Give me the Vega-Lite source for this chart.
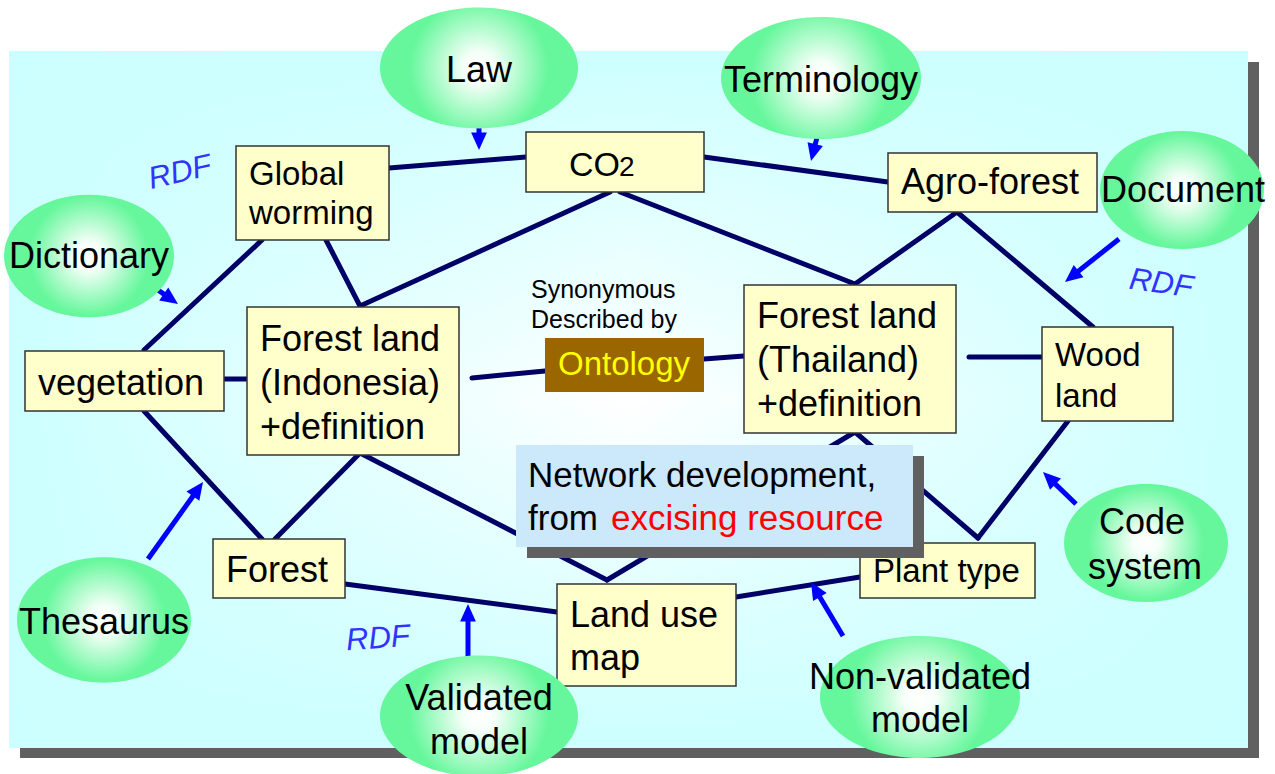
{
  "$schema": "https://vega.github.io/schema/vega-lite/v6.json",
  "width": 1275,
  "height": 774,
  "autosize": "none",
  "padding": 0,
  "background": "white",
  "config": {"view": {"stroke": null}},
  "datasets": {
    "frames": [
      {"part": "slide shadow", "x": 20, "y": 62, "x2": 1259, "y2": 758},
      {"part": "slide", "x": 9, "y": 51, "x2": 1248, "y2": 748},
      {"part": "callout shadow", "x": 527, "y": 456, "x2": 924, "y2": 558},
      {"part": "callout", "x": 516, "y": 445, "x2": 913, "y2": 547}
    ],
    "nodes": [
      {"node": "Global worming", "kind": "term", "x": 236, "y": 146, "x2": 389, "y2": 240},
      {"node": "CO2", "kind": "term", "x": 526, "y": 132, "x2": 704, "y2": 192},
      {"node": "Agro-forest", "kind": "term", "x": 888, "y": 153, "x2": 1097, "y2": 212},
      {"node": "vegetation", "kind": "term", "x": 25, "y": 351, "x2": 224, "y2": 411},
      {"node": "Forest land (Indonesia)", "kind": "term", "x": 247, "y": 307, "x2": 459, "y2": 455},
      {"node": "Forest land (Thailand)", "kind": "term", "x": 744, "y": 285, "x2": 956, "y2": 433},
      {"node": "Wood land", "kind": "term", "x": 1042, "y": 327, "x2": 1173, "y2": 421},
      {"node": "Forest", "kind": "term", "x": 213, "y": 539, "x2": 345, "y2": 598},
      {"node": "Land use map", "kind": "term", "x": 557, "y": 584, "x2": 736, "y2": 686},
      {"node": "Plant type", "kind": "term", "x": 860, "y": 543, "x2": 1035, "y2": 598},
      {"node": "Ontology", "kind": "ontology", "x": 545, "y": 338, "x2": 704, "y2": 392}
    ],
    "edges": [
      {"from": "Global worming", "to": "CO2", "x": 389, "y": 168, "x2": 526, "y2": 157},
      {"from": "CO2", "to": "Agro-forest", "x": 704, "y": 157, "x2": 888, "y2": 182},
      {"from": "Global worming", "to": "vegetation", "x": 262, "y": 240, "x2": 144, "y2": 350},
      {"from": "Global worming", "to": "Forest land (Indonesia)", "x": 326, "y": 240, "x2": 360, "y2": 306},
      {"from": "Forest land (Indonesia)", "to": "CO2", "x": 360, "y": 306, "x2": 610, "y2": 192},
      {"from": "CO2", "to": "Forest land (Thailand)", "x": 620, "y": 192, "x2": 855, "y2": 284},
      {"from": "Agro-forest", "to": "Forest land (Thailand)", "x": 957, "y": 212, "x2": 855, "y2": 284},
      {"from": "Agro-forest", "to": "Wood land", "x": 957, "y": 212, "x2": 1093, "y2": 327},
      {"from": "Forest land (Thailand)", "to": "Wood land", "x": 969, "y": 357, "x2": 1042, "y2": 357},
      {"from": "vegetation", "to": "Forest land (Indonesia)", "x": 224, "y": 379, "x2": 247, "y2": 379},
      {"from": "Forest land (Indonesia)", "to": "Ontology", "x": 472, "y": 378, "x2": 545, "y2": 371},
      {"from": "Ontology", "to": "Forest land (Thailand)", "x": 704, "y": 359, "x2": 744, "y2": 356},
      {"from": "vegetation", "to": "Forest", "x": 144, "y": 411, "x2": 262, "y2": 539},
      {"from": "Forest", "to": "Forest land (Indonesia)", "x": 275, "y": 539, "x2": 360, "y2": 453},
      {"from": "Forest land (Indonesia)", "to": "Land use map", "x": 360, "y": 453, "x2": 607, "y2": 580},
      {"from": "Land use map", "to": "Forest land (Thailand)", "x": 607, "y": 580, "x2": 855, "y2": 432},
      {"from": "Forest land (Thailand)", "to": "Plant type", "x": 855, "y": 432, "x2": 978, "y2": 538},
      {"from": "Plant type", "to": "Wood land", "x": 978, "y": 538, "x2": 1068, "y2": 421},
      {"from": "Forest", "to": "Land use map", "x": 345, "y": 584, "x2": 557, "y2": 612},
      {"from": "Land use map", "to": "Plant type", "x": 736, "y": 597, "x2": 860, "y2": 577}
    ],
    "sources": [
      {"source": "Law", "kind": "wide", "x": 479, "y": 68, "rx": 99},
      {"source": "Terminology", "kind": "wide", "x": 821, "y": 78, "rx": 100},
      {"source": "Document", "kind": "round", "x": 1182, "y": 190, "rx": 82},
      {"source": "Dictionary", "kind": "round", "x": 89, "y": 256, "rx": 85},
      {"source": "Thesaurus", "kind": "round", "x": 104, "y": 620, "rx": 87},
      {"source": "Validated model", "kind": "wide", "x": 479, "y": 716, "rx": 99},
      {"source": "Non-validated model", "kind": "wide", "x": 920, "y": 697, "rx": 100},
      {"source": "Code system", "kind": "round", "x": 1146, "y": 543, "rx": 82}
    ],
    "arrows": [
      {"source": "Dictionary", "x": 148, "y": 283, "x2": 171.4, "y2": 299.4, "tx": 178, "ty": 304, "angle": 125},
      {"source": "Law", "x": 479, "y": 118, "x2": 479, "y2": 142, "tx": 479, "ty": 150, "angle": 180},
      {"source": "Terminology", "x": 822, "y": 118, "x2": 813, "y2": 153, "tx": 811, "ty": 161, "angle": 194},
      {"source": "Document", "x": 1119, "y": 239, "x2": 1071, "y2": 277, "tx": 1065, "ty": 282, "angle": 231.5},
      {"source": "Thesaurus", "x": 148, "y": 559, "x2": 198.4, "y2": 488.5, "tx": 203, "ty": 482, "angle": 35.5},
      {"source": "Validated model", "x": 468, "y": 659, "x2": 468, "y2": 612, "tx": 468, "ty": 604, "angle": 0},
      {"source": "Non-validated model", "x": 843, "y": 636, "x2": 815, "y2": 589, "tx": 811, "ty": 582, "angle": 329.4},
      {"source": "Code system", "x": 1076, "y": 504, "x2": 1048.7, "y2": 477.6, "tx": 1043, "ty": 472, "angle": 314.1}
    ],
    "labels": [
      {"role": "termCO", "text": "CO", "x": 569, "y": 176},
      {"role": "sub", "text": "2", "x": 619, "y": 176},
      {"role": "term", "text": "Agro-forest", "x": 901, "y": 194},
      {"role": "term", "text": "vegetation", "x": 38, "y": 395},
      {"role": "term", "text": "Forest land", "x": 260, "y": 351},
      {"role": "term", "text": "(Indonesia)", "x": 260, "y": 395},
      {"role": "term", "text": "+definition", "x": 260, "y": 439},
      {"role": "term", "text": "Forest land", "x": 757, "y": 328},
      {"role": "term", "text": "(Thailand)", "x": 757, "y": 372},
      {"role": "term", "text": "+definition", "x": 757, "y": 416},
      {"role": "term", "text": "Forest", "x": 226, "y": 582},
      {"role": "term", "text": "Land use", "x": 570, "y": 627},
      {"role": "term", "text": "map", "x": 570, "y": 670},
      {"role": "termSmall", "text": "Global", "x": 249, "y": 185},
      {"role": "termSmall", "text": "worming", "x": 249, "y": 224},
      {"role": "termSmall", "text": "Wood", "x": 1055, "y": 366},
      {"role": "termSmall", "text": "land", "x": 1055, "y": 407},
      {"role": "termSmall", "text": "Plant type", "x": 873, "y": 582},
      {"role": "note", "text": "Synonymous", "x": 531, "y": 298},
      {"role": "note", "text": "Described by", "x": 531, "y": 328},
      {"role": "ontology", "text": "Ontology", "x": 558, "y": 375},
      {"role": "source", "text": "Law", "x": 479, "y": 82},
      {"role": "source", "text": "Terminology", "x": 821, "y": 92},
      {"role": "source", "text": "Document", "x": 1183, "y": 202},
      {"role": "source", "text": "Dictionary", "x": 89, "y": 268},
      {"role": "source", "text": "Thesaurus", "x": 104, "y": 634},
      {"role": "source", "text": "Code", "x": 1142, "y": 534},
      {"role": "source", "text": "system", "x": 1145, "y": 579},
      {"role": "source", "text": "Validated", "x": 479, "y": 710},
      {"role": "source", "text": "model", "x": 479, "y": 754},
      {"role": "source", "text": "Non-validated", "x": 920, "y": 689},
      {"role": "source", "text": "model", "x": 920, "y": 732},
      {"role": "callout", "text": "Network development,", "x": 528, "y": 487},
      {"role": "callout", "text": "from", "x": 528, "y": 530},
      {"role": "calloutRed", "text": "excising resource", "x": 611, "y": 530},
      {"role": "rdf", "text": "RDF", "x": 180, "y": 173, "angle": -13},
      {"role": "rdf", "text": "RDF", "x": 1161, "y": 284, "angle": 8},
      {"role": "rdf", "text": "RDF", "x": 378, "y": 639, "angle": -4}
    ]
  },
  "layer": [
    {
      "data": {"name": "frames"},
      "transform": [{"filter": "datum.part === 'slide shadow'"}],
      "mark": {"type": "rect", "fill": "#606060"},
      "encoding": {
        "x": {"field": "x", "type": "quantitative", "scale": {"domain": [0, 1275], "nice": false, "zero": false}, "axis": null},
        "y": {"field": "y", "type": "quantitative", "scale": {"domain": [0, 774], "nice": false, "zero": false, "reverse": true}, "axis": null},
        "x2": {"field": "x2"},
        "y2": {"field": "y2"}
      }
    },
    {
      "data": {"name": "frames"},
      "transform": [{"filter": "datum.part === 'slide'"}],
      "mark": {"type": "rect", "fill": {"gradient": "linear", "x1": 0, "y1": 0, "x2": 0, "y2": 1, "stops": [{"offset": 0, "color": "#CCFFFF"}, {"offset": 0.5, "color": "#FFFFFF"}, {"offset": 1, "color": "#CCFFFF"}]}},
      "encoding": {
        "x": {"field": "x", "type": "quantitative", "scale": {"domain": [0, 1275], "nice": false, "zero": false}, "axis": null},
        "y": {"field": "y", "type": "quantitative", "scale": {"domain": [0, 774], "nice": false, "zero": false, "reverse": true}, "axis": null},
        "x2": {"field": "x2"},
        "y2": {"field": "y2"}
      }
    },
    {
      "data": {"name": "frames"},
      "transform": [{"filter": "datum.part === 'slide'"}],
      "mark": {"type": "rect", "fill": {"gradient": "linear", "x1": 0, "y1": 0, "x2": 1, "y2": 0, "stops": [{"offset": 0, "color": "rgba(204,255,255,1)"}, {"offset": 0.5, "color": "rgba(204,255,255,0)"}, {"offset": 1, "color": "rgba(204,255,255,1)"}]}},
      "encoding": {
        "x": {"field": "x", "type": "quantitative", "scale": {"domain": [0, 1275], "nice": false, "zero": false}, "axis": null},
        "y": {"field": "y", "type": "quantitative", "scale": {"domain": [0, 774], "nice": false, "zero": false, "reverse": true}, "axis": null},
        "x2": {"field": "x2"},
        "y2": {"field": "y2"}
      }
    },
    {
      "data": {"name": "edges"},
      "mark": {"type": "rule", "color": "#000066", "strokeWidth": 5, "strokeCap": "round"},
      "encoding": {
        "x": {"field": "x", "type": "quantitative", "scale": {"domain": [0, 1275], "nice": false, "zero": false}, "axis": null},
        "y": {"field": "y", "type": "quantitative", "scale": {"domain": [0, 774], "nice": false, "zero": false, "reverse": true}, "axis": null},
        "x2": {"field": "x2"},
        "y2": {"field": "y2"}
      }
    },
    {
      "data": {"name": "nodes"},
      "transform": [{"filter": "datum.kind === 'term'"}],
      "mark": {"type": "rect", "fill": "#FFFFCC", "stroke": "#333333", "strokeWidth": 1.5},
      "encoding": {
        "x": {"field": "x", "type": "quantitative", "scale": {"domain": [0, 1275], "nice": false, "zero": false}, "axis": null},
        "y": {"field": "y", "type": "quantitative", "scale": {"domain": [0, 774], "nice": false, "zero": false, "reverse": true}, "axis": null},
        "x2": {"field": "x2"},
        "y2": {"field": "y2"}
      }
    },
    {
      "data": {"name": "nodes"},
      "transform": [{"filter": "datum.kind === 'ontology'"}],
      "mark": {"type": "rect", "fill": "#996600"},
      "encoding": {
        "x": {"field": "x", "type": "quantitative", "scale": {"domain": [0, 1275], "nice": false, "zero": false}, "axis": null},
        "y": {"field": "y", "type": "quantitative", "scale": {"domain": [0, 774], "nice": false, "zero": false, "reverse": true}, "axis": null},
        "x2": {"field": "x2"},
        "y2": {"field": "y2"}
      }
    },
    {
      "data": {"name": "frames"},
      "transform": [{"filter": "datum.part === 'callout shadow'"}],
      "mark": {"type": "rect", "fill": "#606060"},
      "encoding": {
        "x": {"field": "x", "type": "quantitative", "scale": {"domain": [0, 1275], "nice": false, "zero": false}, "axis": null},
        "y": {"field": "y", "type": "quantitative", "scale": {"domain": [0, 774], "nice": false, "zero": false, "reverse": true}, "axis": null},
        "x2": {"field": "x2"},
        "y2": {"field": "y2"}
      }
    },
    {
      "data": {"name": "frames"},
      "transform": [{"filter": "datum.part === 'callout'"}],
      "mark": {"type": "rect", "fill": "#CCE9FB"},
      "encoding": {
        "x": {"field": "x", "type": "quantitative", "scale": {"domain": [0, 1275], "nice": false, "zero": false}, "axis": null},
        "y": {"field": "y", "type": "quantitative", "scale": {"domain": [0, 774], "nice": false, "zero": false, "reverse": true}, "axis": null},
        "x2": {"field": "x2"},
        "y2": {"field": "y2"}
      }
    },
    {
      "data": {"name": "arrows"},
      "mark": {"type": "rule", "color": "#0000FF", "strokeWidth": 5},
      "encoding": {
        "x": {"field": "x", "type": "quantitative", "scale": {"domain": [0, 1275], "nice": false, "zero": false}, "axis": null},
        "y": {"field": "y", "type": "quantitative", "scale": {"domain": [0, 774], "nice": false, "zero": false, "reverse": true}, "axis": null},
        "x2": {"field": "x2"},
        "y2": {"field": "y2"}
      }
    },
    {
      "data": {"name": "arrows"},
      "mark": {"type": "point", "filled": true, "opacity": 1, "color": "#0000FF", "size": 1000, "shape": "M0,0L0.5,1.1L-0.5,1.1Z"},
      "encoding": {
        "x": {"field": "tx", "type": "quantitative", "scale": {"domain": [0, 1275], "nice": false, "zero": false}, "axis": null},
        "y": {"field": "ty", "type": "quantitative", "scale": {"domain": [0, 774], "nice": false, "zero": false, "reverse": true}, "axis": null},
        "angle": {"field": "angle", "type": "quantitative", "scale": null}
      }
    },
    {
      "data": {"name": "sources"},
      "mark": {"type": "point", "filled": true, "opacity": 1, "strokeWidth": 0, "fill": {"gradient": "radial", "x1": 0.5, "y1": 0.5, "r1": 0, "x2": 0.5, "y2": 0.5, "r2": 0.5, "stops": [{"offset": 0, "color": "#FFFFFF"}, {"offset": 0.16, "color": "#F6FFF9"}, {"offset": 0.7, "color": "#66F79C"}, {"offset": 1, "color": "#66F79C"}]}},
      "encoding": {
        "x": {"field": "x", "type": "quantitative", "scale": {"domain": [0, 1275], "nice": false, "zero": false}, "axis": null},
        "y": {"field": "y", "type": "quantitative", "scale": {"domain": [0, 774], "nice": false, "zero": false, "reverse": true}, "axis": null},
        "size": {"field": "rx", "type": "quantitative", "scale": {"type": "pow", "exponent": 2, "domain": [0, 100], "range": [0, 40000]}, "legend": null},
        "shape": {"field": "kind", "type": "nominal", "scale": {"domain": ["wide", "round"], "range": ["M-1,0C-1,-0.3367,-0.552,-0.61,0,-0.61C0.552,-0.61,1,-0.3367,1,0C1,0.3367,0.552,0.61,0,0.61C-0.552,0.61,-1,0.3367,-1,0Z", "M-1,0C-1,-0.3974,-0.552,-0.72,0,-0.72C0.552,-0.72,1,-0.3974,1,0C1,0.3974,0.552,0.72,0,0.72C-0.552,0.72,-1,0.3974,-1,0Z"]}, "legend": null}
      }
    },
    {
      "data": {"name": "labels"},
      "transform": [{"filter": "datum.role === 'term'"}],
      "mark": {"type": "text", "font": "Liberation Sans", "fontSize": 36, "align": "left", "baseline": "alphabetic", "color": "#000000"},
      "encoding": {
        "x": {"field": "x", "type": "quantitative", "scale": {"domain": [0, 1275], "nice": false, "zero": false}, "axis": null},
        "y": {"field": "y", "type": "quantitative", "scale": {"domain": [0, 774], "nice": false, "zero": false, "reverse": true}, "axis": null},
        "text": {"field": "text"}
      }
    },
    {
      "data": {"name": "labels"},
      "transform": [{"filter": "datum.role === 'termCO'"}],
      "mark": {"type": "text", "font": "Liberation Sans", "fontSize": 34, "align": "left", "baseline": "alphabetic", "color": "#000000"},
      "encoding": {
        "x": {"field": "x", "type": "quantitative", "scale": {"domain": [0, 1275], "nice": false, "zero": false}, "axis": null},
        "y": {"field": "y", "type": "quantitative", "scale": {"domain": [0, 774], "nice": false, "zero": false, "reverse": true}, "axis": null},
        "text": {"field": "text"}
      }
    },
    {
      "data": {"name": "labels"},
      "transform": [{"filter": "datum.role === 'termSmall'"}],
      "mark": {"type": "text", "font": "Liberation Sans", "fontSize": 33, "align": "left", "baseline": "alphabetic", "color": "#000000"},
      "encoding": {
        "x": {"field": "x", "type": "quantitative", "scale": {"domain": [0, 1275], "nice": false, "zero": false}, "axis": null},
        "y": {"field": "y", "type": "quantitative", "scale": {"domain": [0, 774], "nice": false, "zero": false, "reverse": true}, "axis": null},
        "text": {"field": "text"}
      }
    },
    {
      "data": {"name": "labels"},
      "transform": [{"filter": "datum.role === 'sub'"}],
      "mark": {"type": "text", "font": "Liberation Sans", "fontSize": 28, "align": "left", "baseline": "alphabetic", "color": "#000000"},
      "encoding": {
        "x": {"field": "x", "type": "quantitative", "scale": {"domain": [0, 1275], "nice": false, "zero": false}, "axis": null},
        "y": {"field": "y", "type": "quantitative", "scale": {"domain": [0, 774], "nice": false, "zero": false, "reverse": true}, "axis": null},
        "text": {"field": "text"}
      }
    },
    {
      "data": {"name": "labels"},
      "transform": [{"filter": "datum.role === 'note'"}],
      "mark": {"type": "text", "font": "Liberation Sans", "fontSize": 25, "align": "left", "baseline": "alphabetic", "color": "#000000"},
      "encoding": {
        "x": {"field": "x", "type": "quantitative", "scale": {"domain": [0, 1275], "nice": false, "zero": false}, "axis": null},
        "y": {"field": "y", "type": "quantitative", "scale": {"domain": [0, 774], "nice": false, "zero": false, "reverse": true}, "axis": null},
        "text": {"field": "text"}
      }
    },
    {
      "data": {"name": "labels"},
      "transform": [{"filter": "datum.role === 'ontology'"}],
      "mark": {"type": "text", "font": "Liberation Sans", "fontSize": 33, "align": "left", "baseline": "alphabetic", "color": "#FFFF00"},
      "encoding": {
        "x": {"field": "x", "type": "quantitative", "scale": {"domain": [0, 1275], "nice": false, "zero": false}, "axis": null},
        "y": {"field": "y", "type": "quantitative", "scale": {"domain": [0, 774], "nice": false, "zero": false, "reverse": true}, "axis": null},
        "text": {"field": "text"}
      }
    },
    {
      "data": {"name": "labels"},
      "transform": [{"filter": "datum.role === 'source'"}],
      "mark": {"type": "text", "font": "Liberation Sans", "fontSize": 36, "align": "center", "baseline": "alphabetic", "color": "#000000"},
      "encoding": {
        "x": {"field": "x", "type": "quantitative", "scale": {"domain": [0, 1275], "nice": false, "zero": false}, "axis": null},
        "y": {"field": "y", "type": "quantitative", "scale": {"domain": [0, 774], "nice": false, "zero": false, "reverse": true}, "axis": null},
        "text": {"field": "text"}
      }
    },
    {
      "data": {"name": "labels"},
      "transform": [{"filter": "datum.role === 'callout'"}],
      "mark": {"type": "text", "font": "Liberation Sans", "fontSize": 35, "align": "left", "baseline": "alphabetic", "color": "#000000"},
      "encoding": {
        "x": {"field": "x", "type": "quantitative", "scale": {"domain": [0, 1275], "nice": false, "zero": false}, "axis": null},
        "y": {"field": "y", "type": "quantitative", "scale": {"domain": [0, 774], "nice": false, "zero": false, "reverse": true}, "axis": null},
        "text": {"field": "text"}
      }
    },
    {
      "data": {"name": "labels"},
      "transform": [{"filter": "datum.role === 'calloutRed'"}],
      "mark": {"type": "text", "font": "Liberation Sans", "fontSize": 35, "align": "left", "baseline": "alphabetic", "color": "#FF0000"},
      "encoding": {
        "x": {"field": "x", "type": "quantitative", "scale": {"domain": [0, 1275], "nice": false, "zero": false}, "axis": null},
        "y": {"field": "y", "type": "quantitative", "scale": {"domain": [0, 774], "nice": false, "zero": false, "reverse": true}, "axis": null},
        "text": {"field": "text"}
      }
    },
    {
      "data": {"name": "labels"},
      "transform": [{"filter": "datum.role === 'rdf'"}],
      "mark": {"type": "text", "font": "Liberation Sans", "fontSize": 31, "fontStyle": "italic", "align": "center", "baseline": "middle", "color": "#3333FF"},
      "encoding": {
        "x": {"field": "x", "type": "quantitative", "scale": {"domain": [0, 1275], "nice": false, "zero": false}, "axis": null},
        "y": {"field": "y", "type": "quantitative", "scale": {"domain": [0, 774], "nice": false, "zero": false, "reverse": true}, "axis": null},
        "text": {"field": "text"},
        "angle": {"field": "angle", "type": "quantitative", "scale": null}
      }
    }
  ]
}
